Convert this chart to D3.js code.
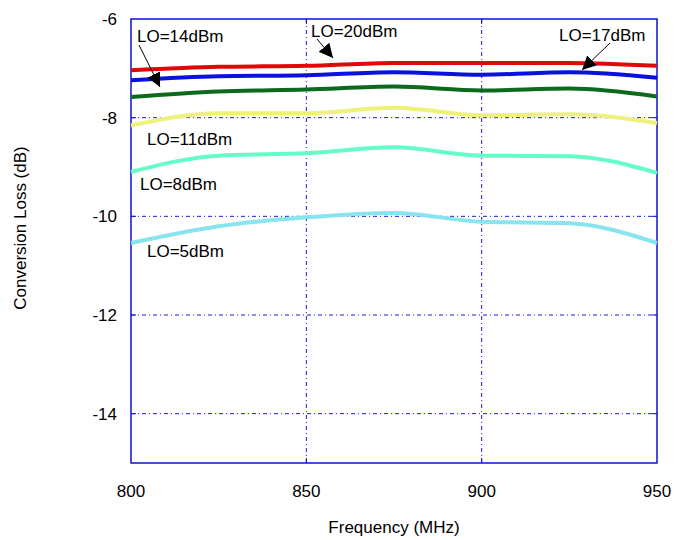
<!DOCTYPE html>
<html>
<head>
<meta charset="utf-8">
<script src="https://cdn.jsdelivr.net/npm/d3@7"></script>
<style>
  body { margin: 0; background: #fff; }
  text { font-family: "Liberation Sans", Arial, sans-serif; }
</style>
</head>
<body>
<div id="chart"></div>
<script>
// frequencies (MHz)
const freqs = [800, 825, 850, 875, 900, 925, 950];

// conversion loss per LO level (dB)
const lo20 = [-7.04, -6.97, -6.95, -6.89, -6.89, -6.89, -6.95];
const lo17 = [-7.24, -7.16, -7.14, -7.08, -7.13, -7.08, -7.19];
const lo14 = [-7.58, -7.47, -7.43, -7.37, -7.45, -7.41, -7.57];
const lo11 = [-8.16, -7.91, -7.91, -7.80, -7.95, -7.93, -8.11];
const lo8  = [-9.10, -8.77, -8.72, -8.60, -8.77, -8.78, -9.12];
const lo5  = [-10.54, -10.20, -10.02, -9.93, -10.11, -10.14, -10.54];

const xTicks = [800, 850, 900, 950];
const yTicks = [-6, -8, -10, -12, -14];

const series = [
    { name: "LO=5dBm", values: lo5, color: "#88e4ee" },
    { name: "LO=8dBm", values: lo8, color: "#66fcc6" },
    { name: "LO=11dBm", values: lo11, color: "#eef27a" },
    { name: "LO=14dBm", values: lo14, color: "#0b6a1c" },
    { name: "LO=17dBm", values: lo17, color: "#0a10e0" },
    { name: "LO=20dBm", values: lo20, color: "#e00808" }
];

const width = 675, height = 540;
const margin = { left: 131, right: 18, top: 19, bottom: 77 };
const fs = 17;

const svg = d3.select("#chart").append("svg")
    .attr("width", width)
    .attr("height", height);

const x = d3.scaleLinear().domain([800, 950]).range([margin.left, width - margin.right]);
const y = d3.scaleLinear().domain([-15, -6]).range([height - margin.bottom, margin.top]);

const gridColor = "#1a1ae0";

// grid lines (dash-dot)
svg.append("g").selectAll("line")
    .data(xTicks.slice(1, -1))
    .enter().append("line")
    .attr("x1", d => x(d)).attr("x2", d => x(d))
    .attr("y1", y(-6)).attr("y2", y(-15))
    .attr("stroke", gridColor).attr("stroke-width", 1)
    .attr("stroke-dasharray", "4,3,1,3");

svg.append("g").selectAll("line")
    .data(yTicks.slice(1))
    .enter().append("line")
    .attr("x1", x(800)).attr("x2", x(950))
    .attr("y1", d => y(d)).attr("y2", d => y(d))
    .attr("stroke", gridColor).attr("stroke-width", 1)
    .attr("stroke-dasharray", "4,3,1,3");

// short solid ticks inside the frame
const tickLen = 5;
const ticks = svg.append("g").attr("stroke", "#1010d0").attr("stroke-width", 1);
yTicks.slice(1).forEach(t => {
    ticks.append("line").attr("x1", x(800)).attr("x2", x(800) + tickLen).attr("y1", y(t)).attr("y2", y(t));
    ticks.append("line").attr("x1", x(950) - tickLen).attr("x2", x(950)).attr("y1", y(t)).attr("y2", y(t));
});
xTicks.slice(1, -1).forEach(t => {
    ticks.append("line").attr("x1", x(t)).attr("x2", x(t)).attr("y1", y(-15)).attr("y2", y(-15) - tickLen);
    ticks.append("line").attr("x1", x(t)).attr("x2", x(t)).attr("y1", y(-6)).attr("y2", y(-6) + tickLen);
});

// frame
svg.append("rect")
    .attr("x", x(800)).attr("y", y(-6))
    .attr("width", x(950) - x(800)).attr("height", y(-15) - y(-6))
    .attr("fill", "none").attr("stroke", "#1010d0").attr("stroke-width", 1.5);

// curves
const line = d3.line()
    .x((d, i) => x(freqs[i]))
    .y(d => y(d))
    .curve(d3.curveMonotoneX);

svg.append("g").selectAll("path")
    .data(series)
    .enter().append("path")
    .attr("d", d => line(d.values))
    .attr("fill", "none")
    .attr("stroke", d => d.color)
    .attr("stroke-width", 4);

// tick labels
svg.append("g").selectAll("text")
    .data(yTicks)
    .enter().append("text")
    .attr("x", 117).attr("y", d => y(d) + 6)
    .attr("text-anchor", "end")
    .attr("font-size", fs)
    .text(d => d);

svg.append("g").selectAll("text")
    .data(xTicks)
    .enter().append("text")
    .attr("x", d => x(d)).attr("y", 497)
    .attr("text-anchor", "middle")
    .attr("font-size", fs)
    .text(d => d);

// axis titles
svg.append("text")
    .attr("x", 394).attr("y", 533)
    .attr("text-anchor", "middle")
    .attr("font-size", fs)
    .text("Frequency (MHz)");

svg.append("text")
    .attr("transform", "translate(26,228) rotate(-90)")
    .attr("text-anchor", "middle")
    .attr("font-size", fs)
    .text("Conversion Loss (dB)");

// annotations
svg.append("defs").append("marker")
    .attr("id", "arrow")
    .attr("viewBox", "0 0 10 10")
    .attr("refX", 10).attr("refY", 5)
    .attr("markerWidth", 14).attr("markerHeight", 14)
    .attr("markerUnits", "userSpaceOnUse")
    .attr("orient", "auto")
    .append("path")
    .attr("d", "M0,0 L10,5 L0,10 z")
    .attr("fill", "#000");

const labels = [
    { text: "LO=14dBm", tx: 137, ty: 42, arrow: [139, 45, 160, 87] },
    { text: "LO=20dBm", tx: 311, ty: 37, arrow: [317, 39, 333, 58] },
    { text: "LO=17dBm", tx: 559, ty: 41, arrow: [610, 43, 582, 70] },
    { text: "LO=11dBm", tx: 147, ty: 145 },
    { text: "LO=8dBm", tx: 140, ty: 190 },
    { text: "LO=5dBm", tx: 147, ty: 257 }
];

svg.append("g").selectAll("text")
    .data(labels)
    .enter().append("text")
    .attr("x", d => d.tx).attr("y", d => d.ty)
    .attr("font-size", fs)
    .text(d => d.text);

svg.append("g").selectAll("line")
    .data(labels.filter(d => d.arrow))
    .enter().append("line")
    .attr("x1", d => d.arrow[0]).attr("y1", d => d.arrow[1])
    .attr("x2", d => d.arrow[2]).attr("y2", d => d.arrow[3])
    .attr("stroke", "#000").attr("stroke-width", 1)
    .attr("marker-end", "url(#arrow)");
</script>
</body>
</html>
